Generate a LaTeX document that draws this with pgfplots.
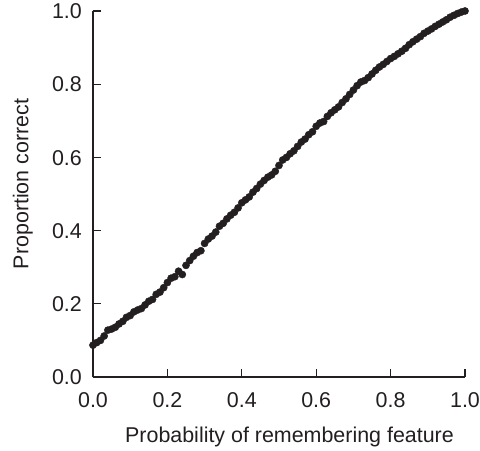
\documentclass[border=0pt]{standalone}
\usepackage{fontspec}
\setmainfont{Liberation Sans}
\usepackage{pgfplots}
\pgfplotsset{compat=1.18}
\definecolor{ink}{HTML}{231F20}

\begin{document}
\begin{tikzpicture}
\begin{axis}[
    at={(0,0)}, anchor=origin,
    scale only axis,
    width=372bp, height=366bp,
    xmin=0, xmax=1, ymin=0, ymax=1,
    axis x line=bottom, axis y line=left,
    axis line style={-, ink, line width=1.3bp},
    tick style={ink, line width=1.3bp},
    tick align=inside,
    major tick length=8bp,
    xtick={0,0.2,...,1.0}, ytick={0,0.2,...,1.0},
    /pgf/number format/.cd, fixed, fixed zerofill, precision=1,
    assume math mode=true,
    /pgfplots/.cd,
    ticklabel style={font=\fontsize{21.5}{24}\selectfont, text=ink, inner sep=0pt},
    xticklabel style={anchor=base, yshift=-30bp},
    yticklabel style={anchor=base east, xshift=-11bp, yshift=-7.7bp},
    label style={font=\fontsize{21.5}{24}\selectfont, text=ink, inner sep=0pt},
    xlabel={Probability of remembering feature},
    ylabel={Proportion correct},
    xlabel style={at={(axis description cs:0.5282,-0.1795)}, anchor=base},
    ylabel style={at={(axis description cs:-0.1734,0.5273)}, anchor=base, rotate=0},
    clip=false,
]
% proportion correct as a function of the probability of remembering the feature
\addplot[only marks, mark=*, mark size=3.6bp, mark options={fill=ink, draw=ink}]
coordinates {
(0.00,0.087) (0.01,0.094) (0.02,0.100) (0.03,0.112) (0.04,0.128)
(0.05,0.131) (0.06,0.136) (0.07,0.145) (0.08,0.152) (0.09,0.163)
(0.10,0.168) (0.11,0.178) (0.12,0.183) (0.13,0.187) (0.14,0.197)
(0.15,0.207) (0.16,0.212) (0.17,0.226) (0.18,0.232) (0.19,0.244)
(0.20,0.258) (0.21,0.270) (0.22,0.274) (0.23,0.289) (0.24,0.280)
(0.25,0.305) (0.26,0.318) (0.27,0.330) (0.28,0.340) (0.29,0.345)
(0.30,0.365) (0.31,0.377) (0.32,0.385) (0.33,0.396) (0.34,0.412)
(0.35,0.420) (0.36,0.432) (0.37,0.442) (0.38,0.450) (0.39,0.462)
(0.40,0.476) (0.41,0.484) (0.42,0.492) (0.43,0.505) (0.44,0.515)
(0.45,0.527) (0.46,0.537) (0.47,0.546) (0.48,0.552) (0.49,0.562)
(0.50,0.578) (0.51,0.593) (0.52,0.600) (0.53,0.610) (0.54,0.618)
(0.55,0.630) (0.56,0.642) (0.57,0.650) (0.58,0.662) (0.59,0.670)
(0.60,0.685) (0.61,0.694) (0.62,0.698) (0.63,0.712) (0.64,0.722)
(0.65,0.730) (0.66,0.738) (0.67,0.750) (0.68,0.760) (0.69,0.772)
(0.70,0.784) (0.71,0.796) (0.72,0.806) (0.73,0.810) (0.74,0.818)
(0.75,0.828) (0.76,0.838) (0.77,0.847) (0.78,0.854) (0.79,0.862)
(0.80,0.870) (0.81,0.876) (0.82,0.883) (0.83,0.890) (0.84,0.898)
(0.85,0.908) (0.86,0.916) (0.87,0.923) (0.88,0.930) (0.89,0.939)
(0.90,0.945) (0.91,0.951) (0.92,0.958) (0.93,0.964) (0.94,0.970)
(0.95,0.976) (0.96,0.983) (0.97,0.988) (0.98,0.993) (0.99,0.997)
(1.00,1.000)
};
\end{axis}
\path[use as bounding box] (-93bp,-74bp) rectangle (387bp,377bp);
\end{tikzpicture}
\end{document}
